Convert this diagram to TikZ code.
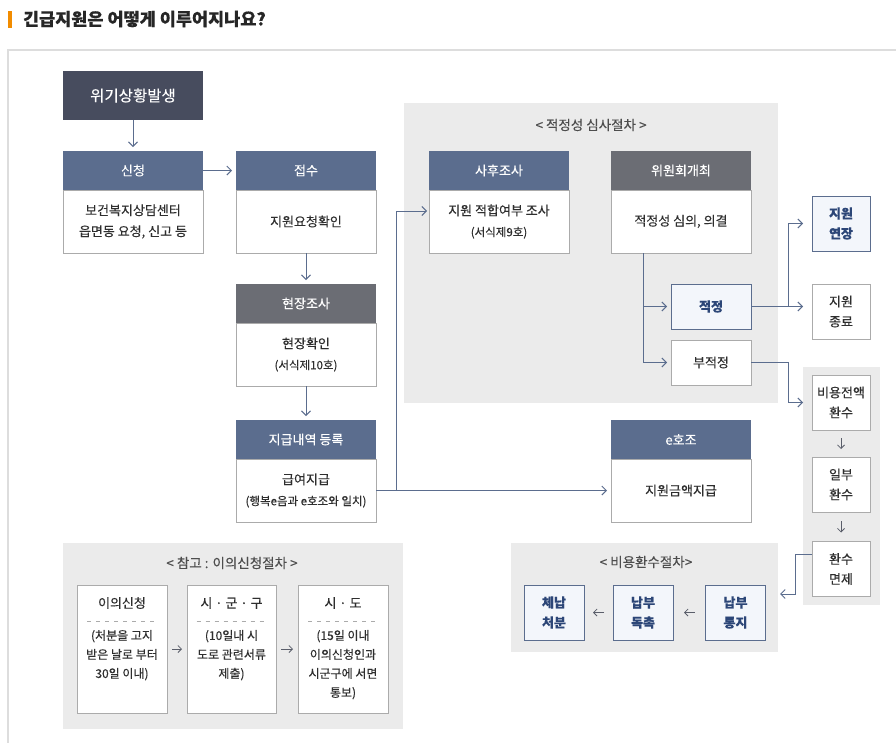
\documentclass[tikz,border=0pt]{standalone}
\usepackage{fontspec}
\setmainfont{Noto Sans CJK KR}[FakeBold=0.25]
\usetikzlibrary{arrows.meta,calc}
\definecolor{hblue}{HTML}{5B6D8E}
\definecolor{hgray}{HTML}{6B6D74}
\definecolor{hdark}{HTML}{474C5E}
\definecolor{panelc}{HTML}{EBEBEB}
\definecolor{bord}{HTML}{ABABAB}
\definecolor{lblue}{HTML}{F3F6FB}
\definecolor{tblue}{HTML}{2C4677}
\definecolor{txt}{HTML}{2E2E2E}
\definecolor{lnc}{HTML}{5B6D8E}
\definecolor{framec}{HTML}{DDDDDD}
\definecolor{orng}{HTML}{F28C00}
\definecolor{sarr}{HTML}{5A5E6A}
\begin{document}
\begin{tikzpicture}[x=1pt,y=-1pt,
  every node/.style={outer sep=0pt, inner sep=0pt},
  hdr/.style={rectangle, minimum width=140pt, minimum height=39pt, text=white, font=\fontsize{13}{16}\selectfont},
  hb/.style={hdr, fill=hblue},
  hg/.style={hdr, fill=hgray},
  bodyb/.style={rectangle, draw=bord, line width=1pt, fill=white, minimum width=140pt, minimum height=63pt, text=txt, align=center, font=\fontsize{13}{21}\selectfont},
  sq/.style={rectangle, draw=bord, line width=1pt, fill=white, minimum width=58pt, minimum height=55pt, text=txt, align=center, font=\fontsize{13}{20}\selectfont},
  sqb/.style={sq, draw=hblue, fill=lblue, text=tblue, font=\fontsize{13}{20}\selectfont\bfseries},
  panelbox/.style={rectangle, fill=panelc, draw=none},
  ptitle/.style={text=txt!85!white, font=\fontsize{13.5}{16}\selectfont},
  arr/.style={draw=lnc, line width=1pt, -{Straight Barb[length=4.5pt,width=9pt]}, shorten >=4pt},
  ln/.style={draw=lnc, line width=1pt},
  smarr/.style={draw=sarr, line width=0.8pt, -{Straight Barb[length=3.5pt,width=7pt]}}
]
\useasboundingbox (0,0) rectangle (896,742);
\fill[white] (0,0) rectangle (896,742);

% title
\fill[orng] (8,11) rectangle (12,28);
\node[anchor=west, text=black!85, font=\fontsize{17.5}{20}\selectfont\bfseries] (title) at (23,19) {긴급지원은 어떻게 이루어지나요?};
\draw[framec, line width=1.5pt] (8,920) -- (8,50) -- (920,50);

% panels
\node[panelbox, minimum width=374pt, minimum height=300pt] (p1) at (591,253) {};
\node[ptitle] (p1t) at (591,125) {< 적정성 심사절차 >};
\node[panelbox, minimum width=77pt, minimum height=238pt] (p2) at (841.5,486) {};
\node[panelbox, minimum width=267pt, minimum height=109pt] (p3) at (644.5,597.5) {};
\node[ptitle] (p3t) at (646,562) {< 비용환수절차>};
\node[panelbox, minimum width=340pt, minimum height=186pt] (p4) at (233,636) {};
\node[ptitle] (p4t) at (232,563) {< 참고 : 이의신청절차 >};

% left column
\node[hdr, fill=hdark, minimum height=49pt, font=\fontsize{15.5}{18}\selectfont] (wigi) at (133,95.5) {위기상황발생};
\node[hb] (sinH) at (133,170.5) {신청};
\node[bodyb] (sinB) at (133,221.5) {보건복지상담센터\\읍면동 요청, 신고 등};
\node[hb] (jubH) at (306,170.5) {접수};
\node[bodyb] (jubB) at (306,221.5) {지원요청확인};
\node[hg] (hyunH) at (306,303.5) {현장조사};
\node[bodyb] (hyunB) at (306,354.5) {현장확인\\{\fontsize{11.5}{21}\selectfont(서식제10호)}};
\node[hb] (jiH) at (306,439.5) {지급내역 등록};
\node[bodyb] (jiB) at (306,490.5) {급여지급\\{\fontsize{11.5}{21}\selectfont(행복e음과 e호조와 일치)}};

% review panel
\node[hb] (sahuH) at (499,170.5) {사후조사};
\node[bodyb] (sahuB) at (499,221.5) {지원 적합여부 조사\\{\fontsize{11.5}{21}\selectfont(서식제9호)}};
\node[hg] (wiH) at (681,170.5) {위원회개최};
\node[bodyb] (wiB) at (681,221.5) {적정성 심의, 의결};
\node[sqb, minimum width=80pt, minimum height=45pt] (jeok) at (711,306.5) {적정};
\node[sq, minimum width=80pt, minimum height=45pt] (bujeok) at (711,362.5) {부적정};

% e hojo
\node[hb] (ehoH) at (681,439.5) {e호조};
\node[bodyb] (ehoB) at (681,490.5) {지원금액지급};

% right column
\node[sqb] (yeon) at (841,223.5) {지원\\연장};
\node[sq] (jong) at (841,311.5) {지원\\종료};
\node[sq] (biyong) at (841,402.5) {비용전액\\환수};
\node[sq] (ilbu) at (841,484.5) {일부\\환수};
\node[sq] (myeon) at (841,569) {환수\\면제};

% recovery
\node[sqb, minimum width=60pt] (chenap) at (554,612.5) {체납\\처분};
\node[sqb, minimum width=60pt] (dok) at (643,612.5) {납부\\독촉};
\node[sqb, minimum width=60pt] (tong) at (735.5,612.5) {납부\\통지};

% objection boxes
\node[rectangle, draw=bord, line width=1pt, fill=white, minimum width=90pt, minimum height=128pt] (ob1) at (122,649) {};
\node[rectangle, draw=bord, line width=1pt, fill=white, minimum width=89pt, minimum height=128pt] (ob2) at (231.5,649) {};
\node[rectangle, draw=bord, line width=1pt, fill=white, minimum width=90pt, minimum height=128pt] (ob3) at (343,649) {};
\node[text=txt, font=\fontsize{13}{16}\selectfont] (ob1h) at (122,603) {이의신청};
\node[text=txt, font=\fontsize{13}{16}\selectfont] (ob2h) at (231.5,603) {시 · 군 · 구};
\node[text=txt, font=\fontsize{13}{16}\selectfont] (ob3h) at (343,603) {시 · 도};
\foreach \n/\c in {1/122,2/231.5,3/343}{
  \draw[bord, line width=0.8pt, dash pattern=on 4pt off 5pt] (\c-35,621) -- (\c+36,621);
}
\node[anchor=north, align=center, text=txt, font=\fontsize{12}{19}\selectfont] (ob1t) at (122,630) {(처분을 고지\\받은 날로 부터\\30일 이내)};
\node[anchor=north, align=center, text=txt, font=\fontsize{12}{19}\selectfont] (ob2t) at (231.5,630) {(10일내 시\\도로 관련서류\\제출)};
\node[anchor=north, align=center, text=txt, font=\fontsize{12}{19}\selectfont] (ob3t) at (343,630) {(15일 이내\\이의신청인과\\시군구에 서면\\통보)};

% connectors
\draw[arr] (wigi.south) -- (sinH.north);
\draw[arr] (sinH.east) -- (jubH.west);
\draw[arr] (jubB.south) -- (hyunH.north);
\draw[arr] (hyunB.south) -- (jiH.north);
\coordinate (j1) at (396,490.5);
\coordinate (sy) at (0,211);
\draw[arr] (jiB.east) -- (ehoB.west);
\draw[arr, shorten >=2pt] (j1) |- (sahuB.west |- sy);
\coordinate (wx) at (643,0);
\draw[arr] (wiB.south -| wx) |- (jeok.west);
\draw[arr] (wiB.south -| wx) |- (bujeok.west);
\coordinate (rx) at (788,0);
\draw[arr, shorten >=9pt] (jeok.east) -- (jong.west |- jeok.east);
\draw[arr, shorten >=9pt] (jeok.east -| rx) |- (yeon.west);
\draw[arr, shorten >=9pt] (bujeok.east) -| (rx |- biyong.west) -- (biyong.west);
\coordinate (m1) at (812,554);
\coordinate (m2) at (795,554);
\coordinate (m3) at (0,594);
\draw[arr, shorten >=2pt] (m1) -- (m2) |- (p3.east |- m3);

% small arrows
\draw[smarr, shorten <=8pt, shorten >=8pt] (biyong.south) -- (ilbu.north);
\draw[smarr, shorten <=9pt, shorten >=9pt] (ilbu.south) -- (myeon.north);
\draw[smarr, shorten <=11pt, shorten >=11pt] (tong.west) -- (dok.east);
\draw[smarr, shorten <=9pt, shorten >=9pt] (dok.west) -- (chenap.east);
\draw[smarr, shorten <=5pt, shorten >=5pt] (ob1.east) -- (ob2.west);
\draw[smarr, shorten <=5pt, shorten >=5pt] (ob2.east) -- (ob3.west);
\end{tikzpicture}
\end{document}
